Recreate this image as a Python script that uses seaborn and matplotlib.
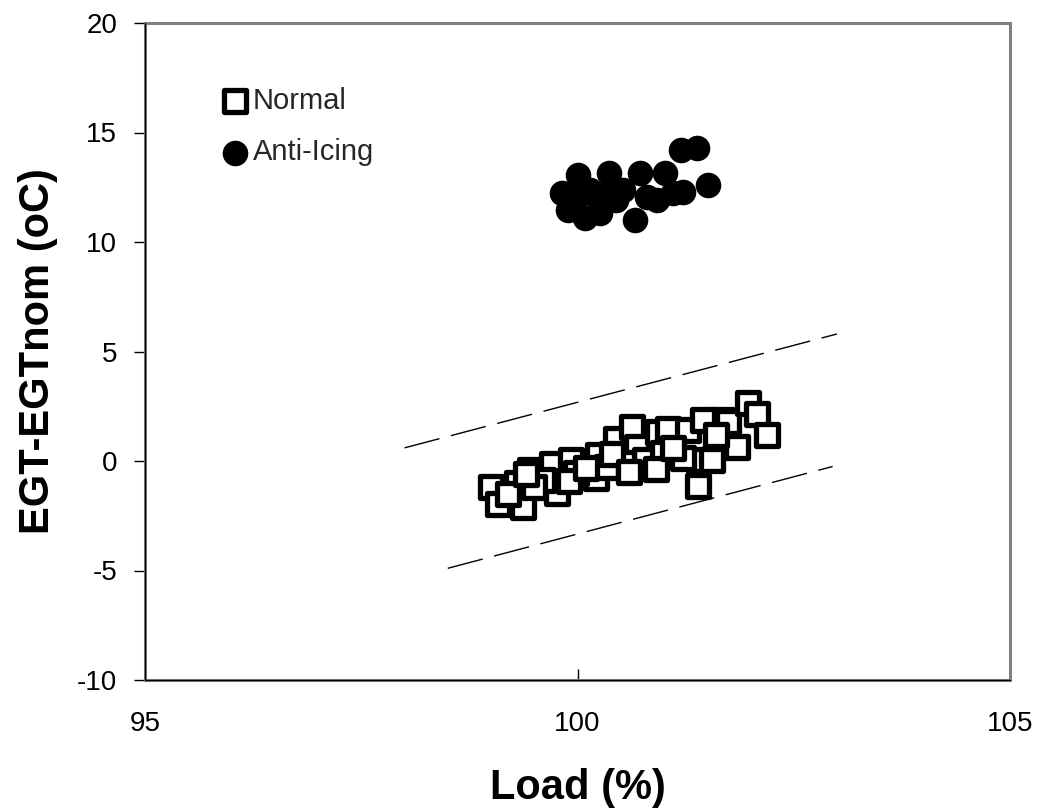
import matplotlib
matplotlib.use("Agg")
import matplotlib.pyplot as plt
import seaborn as sns

# ---- data ----
normal_load = [99.00, 99.08, 99.37, 99.30, 99.45, 99.70, 99.76, 99.92, 100.24, 100.21,
               100.45, 100.63, 100.69, 100.93, 101.05, 101.28, 101.39, 101.40, 101.67, 101.74,
               101.97, 102.07, 102.19, 101.84, 101.55, 101.45, 100.78, 100.99, 100.53, 99.98,
               99.60, 100.34, 100.91, 101.22, 99.20, 99.50, 99.90, 100.10, 100.40, 100.60,
               101.10, 101.60, 99.40]
normal_egt = [-1.17, -1.96, -2.10, -1.00, -0.41, -0.14, -1.45, 0.05, 0.27, -0.78,
              1.00, 1.57, 0.65, 1.34, 1.46, 1.42, -1.13, 0.05, 1.87, 1.79,
              2.65, 2.15, 1.19, 0.65, 0.05, 1.87, 0.05, 0.37, -0.09, -0.55,
              -0.87, -0.27, -0.37, 0.14, -1.50, -1.20, -0.90, -0.30, 0.30, -0.50,
              0.60, 1.20, -0.60]

anti_load = [101.20, 101.38, 101.51, 101.22, 101.01, 100.72, 100.36, 100.01, 99.82, 99.89,
             100.09, 100.26, 100.45, 100.66, 100.53, 100.80, 100.92, 101.10, 100.14, 100.34,
             99.99, 100.26]
anti_egt = [14.20, 14.28, 12.60, 12.30, 13.14, 13.14, 13.14, 13.06, 12.22, 11.46,
            11.08, 11.32, 11.92, 11.00, 12.37, 12.07, 11.92, 12.24, 12.37, 12.24,
            12.07, 11.78]

upper_x = [98.0, 103.0]
upper_y = [0.6, 5.8]
lower_x = [98.5, 102.95]
lower_y = [-4.9, -0.25]

x_ticks = [95, 100, 105]
y_ticks = [-10, -5, 0, 5, 10, 15, 20]

# ---- styling ----
sns.set_theme(style="white")
plt.rcParams["font.family"] = ["Liberation Sans", "DejaVu Sans"]

fig = plt.figure(figsize=(10.38, 8.11), dpi=100)
ax = fig.add_axes([145 / 1038, 1 - 680 / 811, 865 / 1038, 657 / 811])

dash = (0, (26, 8.5))
sns.lineplot(x=upper_x, y=upper_y, ax=ax, color="black", linewidth=1.0,
             linestyle=dash, sort=False)
sns.lineplot(x=lower_x, y=lower_y, ax=ax, color="black", linewidth=1.0,
             linestyle=dash, sort=False)

sns.scatterplot(x=normal_load, y=normal_egt, ax=ax, marker="s", s=240,
                color="white", edgecolor="black", linewidth=3.8, label="Normal")
sns.scatterplot(x=anti_load, y=anti_egt, ax=ax, marker="o", s=340,
                color="black", edgecolor="black", linewidth=0, label="Anti-Icing")

ax.set_xlim(95, 105)
ax.set_ylim(-10, 20)
ax.set_xticks(x_ticks)
ax.set_yticks(y_ticks)
ax.set_xticklabels([str(t) for t in x_ticks])
ax.set_yticklabels([str(t) for t in y_ticks])

for s in ax.spines.values():
    s.set_visible(True)
    s.set_color("#808080")
    s.set_linewidth(2.2)
ax.axvline(95, color="black", linewidth=0.9, zorder=5, clip_on=False)
ax.axhline(-10, color="black", linewidth=0.9, zorder=5, clip_on=False)

ax.tick_params(axis="y", direction="out", length=8, width=1, color="black",
               labelsize=20, pad=12, left=True, labelcolor="black")
ax.tick_params(axis="x", direction="in", length=8, width=1, color="black",
               labelsize=20, pad=22, bottom=True, labelcolor="black")

ax.set_xlabel("Load (%)", fontsize=30, fontweight="bold", labelpad=23, color="black")
ax.set_ylabel("EGT-EGTnom (oC)", fontsize=30, fontweight="bold", labelpad=14, color="black")

ax.legend(loc="upper left", bbox_to_anchor=(0.0867, 0.9026), frameon=False,
          fontsize=21, handlelength=1.0, handletextpad=0.12, borderpad=0,
          borderaxespad=0, labelspacing=0.8)

fig.savefig("out.png", dpi=100)
